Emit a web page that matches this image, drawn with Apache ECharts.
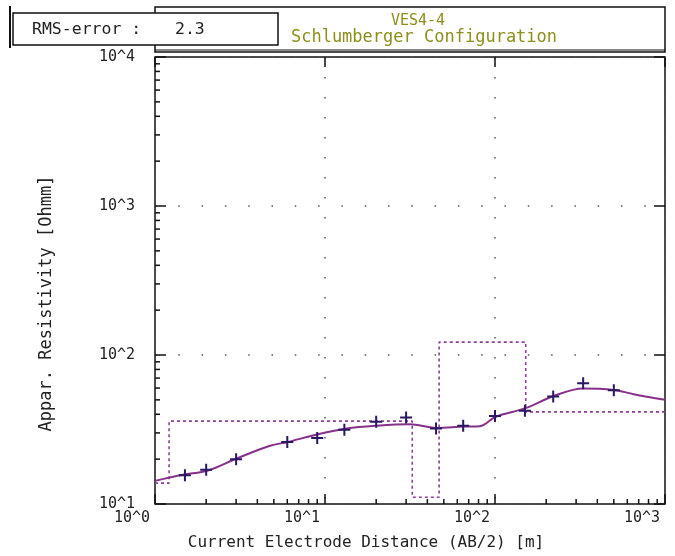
<!DOCTYPE html>
<html>
<head>
<meta charset="utf-8">
<script src="https://cdn.jsdelivr.net/npm/echarts@6/dist/echarts.min.js"></script>
<style>
html,body{margin:0;padding:0;background:#fff;}
#chart{width:675px;height:556px;}
</style>
</head>
<body>
<div id="chart"></div>
<script>
// ---- data ----
// measured apparent resistivity (AB/2 [m], rho_a [Ohm m])
const measAB2 = [1.5, 2, 3, 6, 9, 13, 20, 30, 45, 65, 100, 150, 220, 330, 500];
const measRho = [15.6, 17.0, 20.0, 26.1, 27.7, 31.5, 35.6, 38.1, 32.1, 33.5, 39.0, 42.2, 52.6, 64.6, 58.0];
// model (calculated) curve
const modelAB2 = [1, 1.46, 2.05, 3.02, 4.75, 6.06, 9.1, 13.4, 19.9, 31.6, 45, 65, 81.6, 101, 150, 222, 330, 497, 654, 1000];
const modelRho = [14.3, 15.7, 16.8, 20.2, 24.6, 26.1, 29.4, 32.1, 33.5, 34.3, 32.4, 33.1, 33.3, 38.5, 43.8, 53.1, 59.6, 58.3, 54.6, 50.0];
// layered model
const layerRho = [13.8, 36.0, 11.1, 122, 41.5];
const layerDepth = [1.21, 32.6, 46.9, 151.6];
// axes
const xMin = 1, xMax = 1000, yMin = 10, yMax = 10000;
const xMinorTicks = [2,3,4,5,6,7,8,9,20,30,40,50,60,70,80,90,200,300,400,500,600,700,800,900];
const yMinorTicks = [20,30,40,50,60,70,80,90,200,300,400,500,600,700,800,900,2000,3000,4000,5000,6000,7000,8000,9000];
const rmsError = '2.3';
const title1 = 'VES4-4';
const title2 = 'Schlumberger Configuration';

// ---- build ----
const measData = measAB2.map((x, i) => [x, measRho[i]]);
const modelData = modelAB2.map((x, i) => [x, modelRho[i]]);
const stepData = [];
let xs = xMin;
for (let i = 0; i < layerRho.length; i++) {
  const xe = i < layerDepth.length ? layerDepth[i] : xMax;
  stepData.push([xs, layerRho[i]]);
  stepData.push([xe, layerRho[i]]);
  xs = xe;
}

const FONT = 'DejaVu Sans Mono';
const fmt = v => '10^' + Math.round(Math.log10(v));
const plus = 'path://M5,0 h2 v5 h5 v2 h-5 v5 h-2 v-5 h-5 v-2 h5 z';

const chart = echarts.init(document.getElementById('chart'), null, {renderer: 'canvas'});
chart.setOption({
  backgroundColor: '#fff',
  animation: false,
  grid: {left: 155, right: 10, top: 57, bottom: 51, show: true, borderColor: '#111', borderWidth: 1.5, backgroundColor: 'transparent'},
  xAxis: [{
    type: 'log', logBase: 10, min: xMin, max: xMax, position: 'bottom',
    axisLine: {show: false},
    axisTick: {show: true, inside: true, length: 10, lineStyle: {color: '#111', width: 1.5}},
    axisLabel: {formatter: fmt, color: '#222', fontFamily: FONT, fontSize: 15, margin: 7, padding: [0, 46, 0, 0], showMinLabel: true, showMaxLabel: true},
    splitLine: {show: true, lineStyle: {color: '#555', width: 1.5, type: [1.5, 18.5]}},
    name: 'Current Electrode Distance (AB/2) [m]', nameLocation: 'middle', nameGap: 31,
    nameTextStyle: {color: '#222', fontFamily: FONT, fontSize: 16, padding: [0, 88, 0, 0]}
  }, {
    type: 'log', logBase: 10, min: xMin, max: xMax, position: 'top',
    axisLine: {show: false},
    axisTick: {show: true, inside: true, length: 10, lineStyle: {color: '#111', width: 1.5}},
    axisLabel: {show: false}, splitLine: {show: false}
  }],
  yAxis: [{
    type: 'log', logBase: 10, min: yMin, max: yMax, position: 'left',
    axisLine: {show: false},
    axisTick: {show: true, inside: true, length: 11, lineStyle: {color: '#111', width: 1.5}},
    axisLabel: {formatter: fmt, color: '#222', fontFamily: FONT, fontSize: 15, margin: 20, showMinLabel: true, showMaxLabel: true},
    splitLine: {show: true, lineStyle: {color: '#555', width: 1.5, type: [1.5, 21.8]}},
    name: 'Appar. Resistivity [Ohmm]', nameLocation: 'middle', nameGap: 100,
    nameTextStyle: {color: '#222', fontFamily: FONT, fontSize: 17, padding: [0, 46, 0, 0]}
  }, {
    type: 'log', logBase: 10, min: yMin, max: yMax, position: 'right',
    axisLine: {show: false},
    axisTick: {show: true, inside: true, length: 11, lineStyle: {color: '#111', width: 1.5}},
    axisLabel: {show: false}, splitLine: {show: false}
  }],
  series: [
    {
      type: 'custom', name: 'xminor', xAxisIndex: 0, yAxisIndex: 0, silent: true, clip: false,
      data: xMinorTicks.map(v => [v, yMin]),
      renderItem: (params, api) => {
        const p = api.coord([api.value(0), api.value(1)]);
        return {type: 'line', shape: {x1: p[0], y1: p[1], x2: p[0], y2: p[1] - 5}, style: {stroke: '#111', lineWidth: 1.5}};
      }
    },
    {
      type: 'custom', name: 'yminor', xAxisIndex: 0, yAxisIndex: 0, silent: true, clip: false,
      data: yMinorTicks.map(v => [xMin, v]),
      renderItem: (params, api) => {
        const p = api.coord([api.value(0), api.value(1)]);
        return {type: 'line', shape: {x1: p[0], y1: p[1], x2: p[0] + 5, y2: p[1]}, style: {stroke: '#111', lineWidth: 1.5}};
      }
    },
    {
      type: 'line', name: 'layers', data: stepData, symbol: 'none',
      lineStyle: {color: '#8a3f98', width: 1.6, type: [3, 3]}, z: 3
    },
    {
      type: 'line', name: 'model', data: modelData, symbol: 'none', smooth: 0.35,
      lineStyle: {color: '#86308a', width: 2}, z: 4
    },
    {
      type: 'scatter', name: 'measured', data: measData, symbol: plus, symbolSize: 12,
      itemStyle: {color: '#2b1763', opacity: 1}, z: 5
    }
  ],
  graphic: [
    {type: 'rect', shape: {x: 155, y: 7, width: 510, height: 45}, style: {fill: '#fff', stroke: '#111', lineWidth: 1.5}, z: 10},
    {type: 'line', shape: {x1: 155, y1: 50, x2: 665, y2: 50}, style: {stroke: '#111', lineWidth: 1}, z: 10},
    {type: 'rect', shape: {x: 13, y: 13, width: 265, height: 32}, style: {fill: '#fff', stroke: '#111', lineWidth: 1.5}, z: 11},
    {type: 'line', shape: {x1: 10, y1: 6, x2: 10, y2: 48}, style: {stroke: '#111', lineWidth: 2}, z: 11},
    {type: 'text', x: 32, y: 30, style: {text: 'RMS-error :', font: '16.5px "DejaVu Sans Mono"', fill: '#222', textVerticalAlign: 'middle'}, z: 12},
    {type: 'text', x: 175, y: 30, style: {text: rmsError, font: '16.5px "DejaVu Sans Mono"', fill: '#222', textVerticalAlign: 'middle'}, z: 12},
    {type: 'text', x: 418, y: 21, style: {text: title1, font: '15px "DejaVu Sans Mono"', fill: '#8e8e1c', textAlign: 'center', textVerticalAlign: 'middle'}, z: 12},
    {type: 'text', x: 424, y: 38, style: {text: title2, font: '17px "DejaVu Sans Mono"', fill: '#8e8e1c', textAlign: 'center', textVerticalAlign: 'middle'}, z: 12}
  ]
});
</script>
</body>
</html>
